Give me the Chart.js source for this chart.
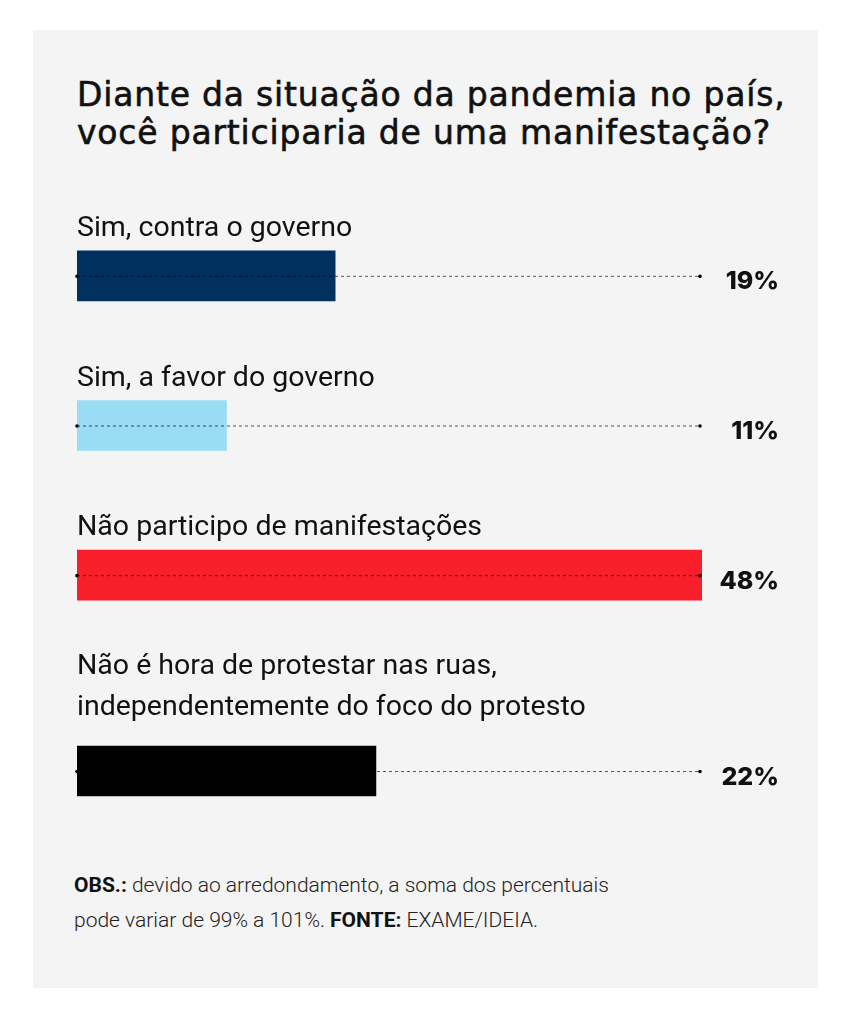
<!DOCTYPE html>
<html>
<head>
<meta charset="utf-8">
<script src="https://cdn.jsdelivr.net/npm/chart.js@4.4.0/dist/chart.umd.min.js"></script>
<style>
  html, body { margin: 0; padding: 0; background: #ffffff; }
  body { width: 850px; height: 1023px; position: relative; overflow: hidden; }
  #panel { position: absolute; left: 33px; top: 30px; width: 785px; height: 958px; background: #f4f4f4; }
  #title { position: absolute; left: 77px; top: 76px; margin: 0; font-family: "DejaVu Sans", sans-serif; font-weight: 400;
           font-size: 33px; line-height: 38px; color: #111; letter-spacing: 0.8px; -webkit-text-stroke: 0.6px #111; }
  .chart { position: absolute; left: 0; width: 850px; }
  #c1 { top: 201px; height: 449px; }
  #c2 { top: 640px; height: 206px; }
  #note { position: absolute; left: 74px; top: 868px; margin: 0; font-family: Roboto, sans-serif; font-size: 21px;
          line-height: 35px; color: #222; font-weight: 300; }
  #note b { font-weight: 700; color: #111; }
</style>
</head>
<body>
<div id="panel"></div>
<h1 id="title">Diante da situação da pandemia no país,<br>você participaria de uma manifestação?</h1>
<div class="chart" id="c1"><canvas id="chart1"></canvas></div>
<div class="chart" id="c2"><canvas id="chart2"></canvas></div>
<p id="note"><b>OBS.:</b> devido ao arredondamento, a soma dos percentuais<br>pode variar de 99% a 101%. <b>FONTE:</b> EXAME/IDEIA.</p>

<script>
// Data
const categories = [
    ['Sim, contra o governo'],
    ['Sim, a favor do governo'],
    ['Não participo de manifestações'],
    ['Não é hora de protestar nas ruas,', 'independentemente do foco do protesto']
];
const values = [19, 11, 48, 22];
const valueLabels = ['19%', '11%', '48%', '22%'];
const barColors = ['#01305f', '#9adcf3', '#f91f2a', '#000000'];
// the original cuts the longest bar at the end of the guide line
const axisMax = 46;

// Draws labels above bars, the dotted guide line and the value on the right
const barDecor = {
    id: 'barDecor',
    afterDatasetsDraw(chart, args, opts) {
        const ctx = chart.ctx;
        const xs = chart.scales.x;
        const meta = chart.getDatasetMeta(0);
        const x0 = xs.getPixelForValue(0);
        const x1 = xs.getPixelForValue(axisMax) - 2;

        meta.data.forEach((bar, i) => {
            const y = bar.y;
            const top = y - bar.height / 2;

            // dotted guide
            ctx.save();
            ctx.strokeStyle = 'rgba(0,0,0,0.65)';
            ctx.lineWidth = 1;
            ctx.setLineDash([3, 3]);
            ctx.beginPath();
            ctx.moveTo(x0, y + 0.5);
            ctx.lineTo(x1, y + 0.5);
            ctx.stroke();
            ctx.setLineDash([]);
            ctx.fillStyle = '#000';
            [x0, x1].forEach(px => {
                ctx.beginPath();
                ctx.arc(px, y + 0.5, 1.8, 0, Math.PI * 2);
                ctx.fill();
            });

            // category label
            const lines = opts.labels[i];
            ctx.fillStyle = '#111';
            ctx.font = '400 28.5px Roboto, sans-serif';
            ctx.textAlign = 'left';
            ctx.textBaseline = 'alphabetic';
            lines.forEach((line, j) => {
                const base = top - opts.gap - (lines.length - 1 - j) * 41;
                ctx.fillText(line, x0, base);
            });

            // value
            ctx.font = '800 25px Inter, sans-serif';
            ctx.textAlign = 'right';
            ctx.textBaseline = 'middle';
            ctx.fillText(opts.values[i], 779, y + 6);
            ctx.restore();
        });
    }
};

function makeChart(id, from, to, padTop, gap) {
    return new Chart(document.getElementById(id), {
        type: 'bar',
        data: {
            labels: categories.slice(from, to).map(l => l.join(' ')),
            datasets: [{
                data: values.slice(from, to),
                backgroundColor: barColors.slice(from, to),
                borderWidth: 0,
                barThickness: 50
            }]
        },
        options: {
            indexAxis: 'y',
            responsive: true,
            maintainAspectRatio: false,
            animation: false,
            layout: { padding: { left: 77, right: 148, top: padTop, bottom: 0 } },
            scales: {
                x: { display: false, min: 0, max: axisMax },
                y: { display: false, grid: { display: false } }
            },
            plugins: {
                legend: { display: false },
                tooltip: { enabled: false },
                barDecor: {
                    labels: categories.slice(from, to),
                    values: valueLabels.slice(from, to),
                    gap: gap
                }
            }
        },
        plugins: [barDecor]
    });
}

makeChart('chart1', 0, 3, 0, 15);
makeChart('chart2', 3, 4, 56, 31);
</script>
</body>
</html>
